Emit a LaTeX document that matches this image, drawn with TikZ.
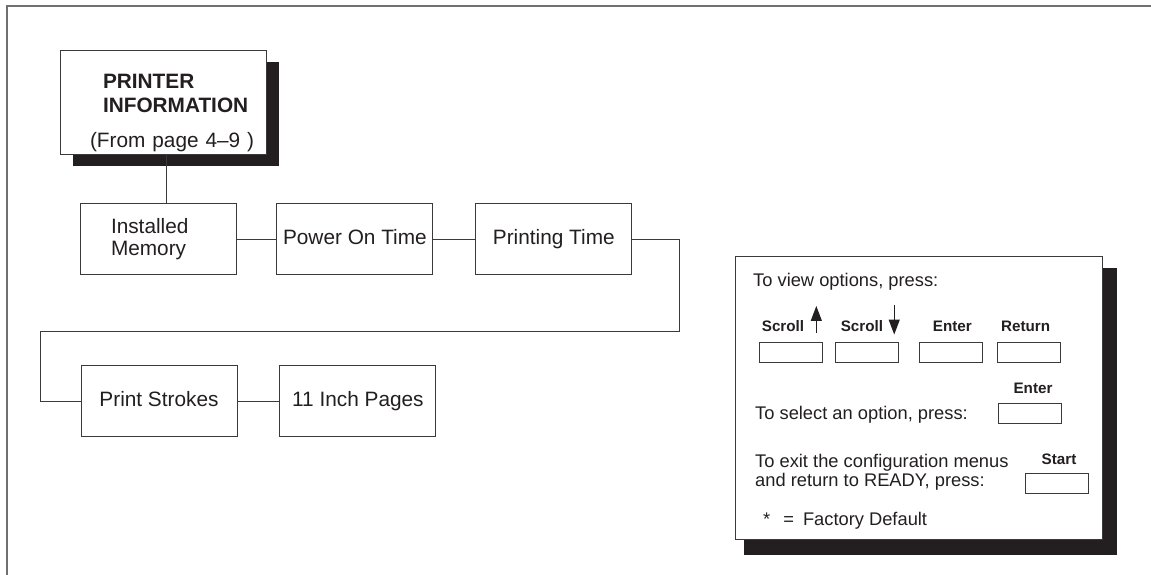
\documentclass[tikz,border=0pt]{standalone}
\usepackage{fontspec}
\setmainfont{Liberation Sans}
\usetikzlibrary{positioning,arrows.meta,shadows}
\definecolor{ink}{RGB}{35,31,32}
\definecolor{rule}{RGB}{58,58,58}
\definecolor{frame}{RGB}{112,112,112}

\begin{document}
\begin{tikzpicture}[x=1pt, y=1pt,
  menu/.style={draw=rule, fill=white, line width=0.9pt, text=ink, inner sep=0pt,
               minimum width=156pt, minimum height=71pt,
               font=\fontsize{20.8}{22}\selectfont},
  item/.style={menu, text height=15pt, text depth=4.5pt},
  title/.style={menu, minimum width=206pt, minimum height=104pt,
               font=\fontsize{20.8}{24}\selectfont,
               drop shadow={shadow xshift=13pt, shadow yshift=-12pt, fill=ink, opacity=1}},
  legend/.style={draw=rule, fill=white, line width=0.9pt,
               minimum width=367pt, minimum height=283pt,
               drop shadow={shadow xshift=12pt, shadow yshift=-13.5pt, shadow scale=1.015,
                            fill=ink, opacity=1}},
  keybox/.style={draw=rule, line width=0.9pt, minimum width=63pt, minimum height=20pt, inner sep=0pt},
  keylbl/.style={text=ink, inner sep=0pt, font=\fontsize{15.2}{17}\selectfont\bfseries},
  note/.style={text=ink, inner sep=0pt, anchor=base west, align=left,
               font=\fontsize{18.3}{19}\selectfont},
  link/.style={draw=rule, line width=0.9pt},
  keyarrow/.style={draw=ink, line width=1.2pt, -{Triangle[length=15pt,width=11pt]}}]

\useasboundingbox (0,0) rectangle (1151,575);
\draw[frame, line width=1.6pt] (1151,569) -- (7,569) -- (7,0);

% menu chain
\node[title, text width=146pt, align=left, text height=35.4pt] (info) at (163,473)
  {\mbox{\hspace{13pt}\textbf{PRINTER}}\\\mbox{\hspace{13pt}\textbf{INFORMATION}}\\[11pt]\mbox{(From page 4--9 )}};
\node[menu, below=49pt of info, xshift=-5pt, text width=94pt, align=left] (mem) {Installed\\Memory};
\node[item, right=40pt of mem] (pow) {Power On Time};
\node[item, right=42pt of pow] (prt) {Printing Time};
\node[item, below=90pt of mem, xshift=1pt] (strk) {Print Strokes};
\node[item, right=42pt of strk] (inch) {11 Inch Pages};
\coordinate (wrap) at (40,244);

\draw[link] ([xshift=8pt]mem.north) -- ([xshift=8pt]mem.north |- info.south);
\draw[link] (mem) -- (pow);
\draw[link] (pow) -- (prt);
\draw[link] (prt.east) -- ++(47pt,0) |- (wrap) |- (strk.west);
\draw[link] (strk) -- (inch);

% key legend
\node[legend] (legend) at (918.5,177.5) {};
\node[note] (view) at (753,288) {To view options, press:};
\node[keybox] (k1) at (790.5,223) {};
\node[keybox, right=13pt of k1] (k2) {};
\node[keybox, right=20pt of k2] (k3) {};
\node[keybox, right=14pt of k3] (k4) {};
\node[keylbl, above=10pt of k1, xshift=-7.5pt] (up) {Scroll};
\node[keylbl, above=10pt of k2, xshift=-5.5pt] (down) {Scroll};
\node[keylbl, above=10pt of k3, xshift=1pt] (ent) {Enter};
\node[keylbl, above=10pt of k4, xshift=-3.5pt] (ret) {Return};
\draw[keyarrow] ([xshift=12pt,yshift=-1pt]up.south east) -- ([xshift=12pt,yshift=14pt]up.north east);
\draw[keyarrow] ([xshift=11pt,yshift=15pt]down.north east) -- ([xshift=11pt,yshift=-3pt]down.south east);

\node[note] (select) at (755,155) {To select an option, press:};
\node[keybox] (k5) at (1029.5,162) {};
\node[keylbl, above=9pt of k5, xshift=3.5pt] (ent2) {Enter};

\node[note] (exit) at (755,88) {To exit the configuration menus\\and return to READY, press:};
\node[keybox] (k6) at (1057,91.5) {};
\node[keylbl, above=8pt of k6, xshift=2pt] (start) {Start};

\node[note] (dflt) at (763,49) {*\hspace{13pt}=\hspace{9pt}Factory Default};
\end{tikzpicture}
\end{document}
